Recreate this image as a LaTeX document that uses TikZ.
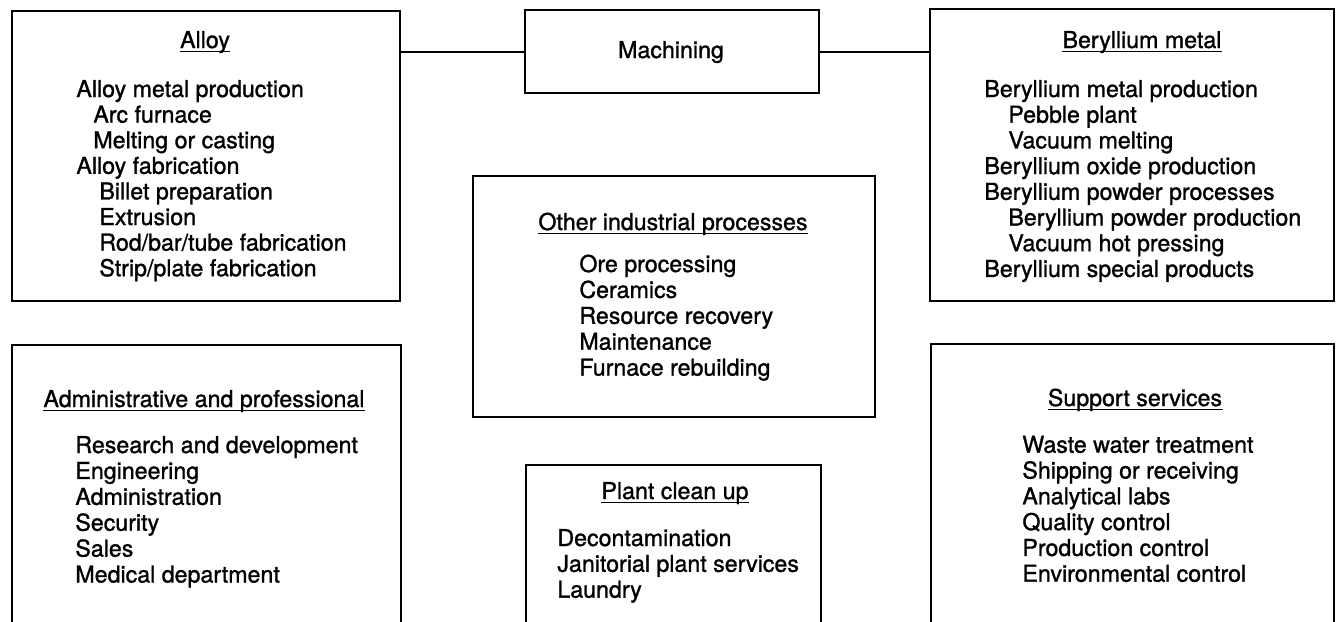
\documentclass[tikz,border=0pt]{standalone}
\usepackage{fontspec}
\setmainfont{TeX Gyre Heros}[RawFeature={embolden=1.2}]

\tikzset{
  panel/.style={draw, line width=1pt, inner sep=0pt, anchor=north west},
  heading/.style={anchor=base, inner sep=0pt, font=\fontsize{11.6}{12.85}\selectfont},
  entry/.style={anchor=base west, inner sep=0pt, font=\fontsize{11.6}{12.85}\selectfont},
  uline/.style={line width=0.6pt},
  link/.style={line width=1pt}
}

\begin{document}
\begin{tikzpicture}[x=0.5pt, y=-0.5pt]

\useasboundingbox[fill=white] (0,0) rectangle (1336,621);

% boxes
\node[panel, minimum width=194pt, minimum height=145pt] (alloy) at (11,10) {};
\node[panel, minimum width=147pt, minimum height=41.5pt] (mach) at (524,9) {};
\node[panel, minimum width=202pt, minimum height=146pt] (beryl) at (929,8) {};
\node[panel, minimum width=201pt, minimum height=120.5pt] (other) at (472,175) {};
\node[panel, minimum width=194.5pt, minimum height=150pt] (admin) at (11,344) {};
\node[panel, minimum width=147.5pt, minimum height=90pt] (plant) at (525,464) {};
\node[panel, minimum width=201.5pt, minimum height=150pt] (support) at (930,343) {};

\draw[link] (mach.west) -- (mach.west -| alloy.east);
\draw[link] (mach.east) -- (mach.east -| beryl.west);

% headings
\node[heading] (mach-title) at (671,58) {Machining};
\node[heading] (alloy-title) at (205,48) {Alloy};
\node[heading] (beryl-title) at (1142,48) {Beryllium metal};
\node[heading] (other-title) at (673,230) {Other industrial processes};
\node[heading] (plant-title) at (675,499) {Plant clean up};
\node[heading] (admin-title) at (204,407) {Administrative and professional};
\node[heading] (support-title) at (1135,406) {Support services};

\foreach \t in {alloy,beryl,other,plant,admin,support}
  \draw[uline] ([yshift=-1.6pt]\t-title.base west) -- ([yshift=-1.6pt]\t-title.base east);

% entries
\foreach \dx/\txt [count=\i from 0] in {0/Alloy metal production, 17/Arc furnace,
    17/Melting or casting, 0/Alloy fabrication, 23/Billet preparation, 23/Extrusion,
    23/Rod\slash bar\slash tube fabrication, 23/Strip\slash plate fabrication}
  \node[entry] (alloy-item\i) at (76+\dx, 97+25.6*\i) {\txt};

\foreach \dx/\txt [count=\i from 0] in {0/Beryllium metal production, 24/Pebble plant,
    24/Vacuum melting, 0/Beryllium oxide production, 0/Beryllium powder processes,
    24/Beryllium powder production, 24/Vacuum hot pressing, 0/Beryllium special products}
  \node[entry] (beryl-item\i) at (984+\dx, 97+25.7*\i) {\txt};

\foreach \txt [count=\i from 0] in {Ore processing, Ceramics, Resource recovery,
    Maintenance, Furnace rebuilding}
  \node[entry] (other-item\i) at (579, 272+25.9*\i) {\txt};

\foreach \txt [count=\i from 0] in {Decontamination, Janitorial plant services, Laundry}
  \node[entry] (plant-item\i) at (557, 546+25.8*\i) {\txt};

\foreach \txt [count=\i from 0] in {Research and development, Engineering,
    Administration, Security, Sales, Medical department}
  \node[entry] (admin-item\i) at (75, 453+25.9*\i) {\txt};

\foreach \txt [count=\i from 0] in {Waste water treatment, Shipping or receiving,
    Analytical labs, Quality control, Production control, Environmental control}
  \node[entry] (support-item\i) at (1022, 452.7+25.8*\i) {\txt};

\end{tikzpicture}
\end{document}
